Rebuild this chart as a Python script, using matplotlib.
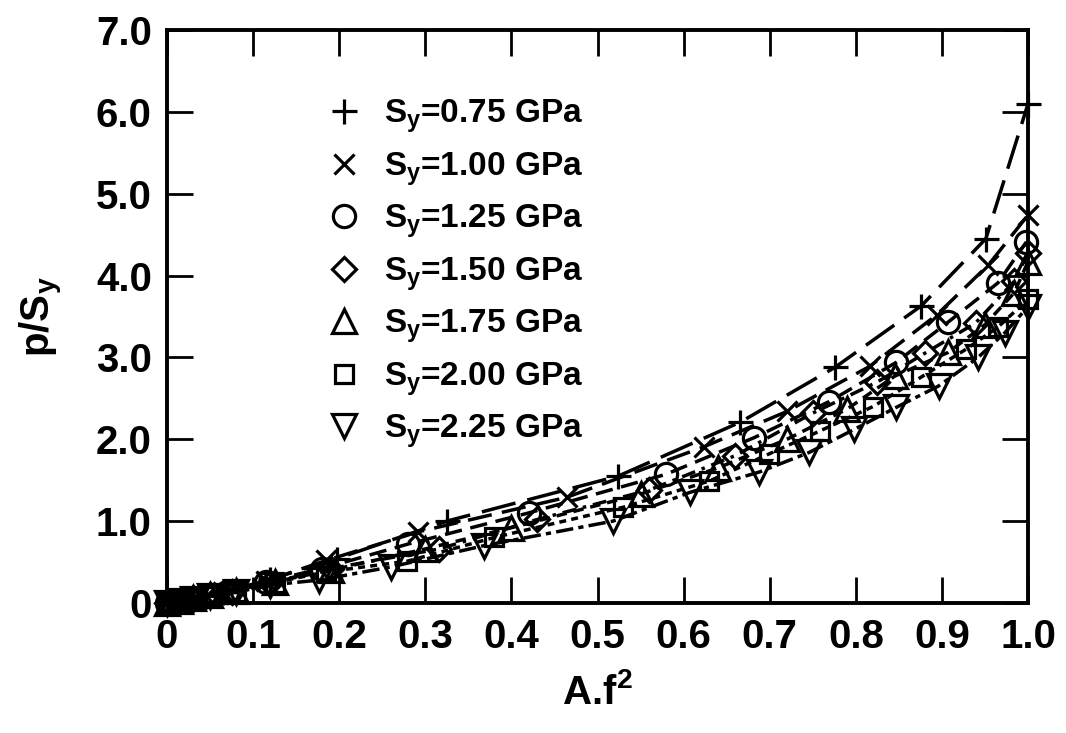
import matplotlib
matplotlib.use("Agg")
import matplotlib.pyplot as plt

plt.rcParams['font.family'] = ['Liberation Sans', 'DejaVu Sans']
plt.rcParams['font.weight'] = 'bold'
plt.rcParams['mathtext.fontset'] = 'custom'
plt.rcParams['mathtext.bf'] = 'Liberation Sans:bold'
plt.rcParams['mathtext.rm'] = 'Liberation Sans:bold'
plt.rcParams['mathtext.default'] = 'bf'

# ---- data ----
x_075 = [0.0, 0.015, 0.03, 0.045, 0.065, 0.12, 0.197, 0.325, 0.524, 0.666, 0.776, 0.876, 0.951, 1.0]
y_075 = [0.0, 0.03, 0.06, 0.09, 0.14, 0.29, 0.54, 1.0, 1.55, 2.21, 2.88, 3.63, 4.45, 6.1]

x_100 = [0.0, 0.015, 0.03, 0.045, 0.065, 0.115, 0.185, 0.292, 0.464, 0.624, 0.72, 0.816, 0.894, 0.954, 1.0]
y_100 = [0.0, 0.03, 0.06, 0.09, 0.14, 0.27, 0.52, 0.87, 1.29, 1.91, 2.34, 2.89, 3.52, 4.13, 4.74]

x_125 = [0.0, 0.015, 0.03, 0.05, 0.07, 0.115, 0.18, 0.28, 0.42, 0.579, 0.682, 0.769, 0.847, 0.907, 0.965, 0.998]
y_125 = [0.0, 0.03, 0.06, 0.1, 0.14, 0.26, 0.42, 0.72, 1.10, 1.57, 2.02, 2.46, 2.94, 3.43, 3.91, 4.41]

x_150 = [0.0, 0.015, 0.03, 0.05, 0.075, 0.12, 0.19, 0.316, 0.43, 0.56, 0.66, 0.75, 0.825, 0.88, 0.939, 0.984, 1.0]
y_150 = [0.0, 0.03, 0.06, 0.1, 0.14, 0.25, 0.42, 0.66, 1.02, 1.38, 1.80, 2.32, 2.70, 3.05, 3.42, 3.93, 4.28]

x_175 = [0.0, 0.015, 0.03, 0.05, 0.08, 0.125, 0.19, 0.30, 0.40, 0.55, 0.64, 0.72, 0.79, 0.845, 0.907, 0.95, 0.984, 1.0]
y_175 = [0.0, 0.03, 0.06, 0.1, 0.15, 0.26, 0.40, 0.66, 0.92, 1.33, 1.65, 2.0, 2.37, 2.77, 3.06, 3.40, 3.79, 4.17]

x_200 = [0.0, 0.015, 0.03, 0.05, 0.08, 0.125, 0.185, 0.279, 0.38, 0.53, 0.63, 0.699, 0.758, 0.82, 0.876, 0.928, 0.965, 1.0]
y_200 = [0.0, 0.03, 0.06, 0.09, 0.14, 0.25, 0.38, 0.51, 0.80, 1.17, 1.49, 1.82, 2.10, 2.40, 2.76, 3.10, 3.37, 3.71]

x_225 = [0.0, 0.015, 0.03, 0.05, 0.08, 0.12, 0.177, 0.26, 0.368, 0.518, 0.607, 0.688, 0.746, 0.798, 0.847, 0.896, 0.942, 0.973, 1.0]
y_225 = [0.0, 0.02, 0.05, 0.08, 0.13, 0.22, 0.28, 0.44, 0.70, 1.0, 1.35, 1.60, 1.84, 2.12, 2.39, 2.65, 3.0, 3.3, 3.62]

labels = ["S$_y$=0.75 GPa", "S$_y$=1.00 GPa", "S$_y$=1.25 GPa", "S$_y$=1.50 GPa",
          "S$_y$=1.75 GPa", "S$_y$=2.00 GPa", "S$_y$=2.25 GPa"]
xticks = [0.0, 0.1, 0.2, 0.3, 0.4, 0.5, 0.6, 0.7, 0.8, 0.9, 1.0]
xtick_labels = ["0", "0.1", "0.2", "0.3", "0.4", "0.5", "0.6", "0.7", "0.8", "0.9", "1.0"]
yticks = [0, 1, 2, 3, 4, 5, 6, 7]
ytick_labels = ["0", "1.0", "2.0", "3.0", "4.0", "5.0", "6.0", "7.0"]

series = [(x_075, y_075), (x_100, y_100), (x_125, y_125), (x_150, y_150),
          (x_175, y_175), (x_200, y_200), (x_225, y_225)]
markers = ['+', 'x', 'o', 'D', '^', 's', 'v']
msizes = [18, 15, 16, 12, 17, 13, 17]
dash_styles = [(10, 3.5), (7, 3), (5, 2.5), (4, 2, 1, 2), (3, 2), (2, 1.5), (5, 1.5, 1.5, 1.5)]

fig = plt.figure(figsize=(10.66, 7.33), dpi=100)
ax = fig.add_axes([0.1567, 0.1774, 0.8077, 0.7817])

for (xs, ys), ds in zip(series, dash_styles):
    ax.plot(xs, ys, color='black', lw=2.5, dashes=ds)
for (xs, ys), m, ms, lab in zip(series, markers, msizes, labels):
    ax.plot(xs, ys, linestyle='none', marker=m, markersize=ms, markeredgewidth=2.3,
            markerfacecolor='none', markeredgecolor='black', label=lab, clip_on=False)

ax.set_xlim(0, 1.0)
ax.set_ylim(0, 7.0)
ax.set_xticks(xticks)
ax.set_xticklabels(xtick_labels)
ax.set_yticks(yticks)
ax.set_yticklabels(ytick_labels)
ax.tick_params(direction='in', length=19, width=2, labelsize=29, pad=11,
               top=True, right=True)
for sp in ax.spines.values():
    sp.set_linewidth(2.8)

ax.set_xlabel("A.f$^2$", fontsize=29, fontweight='bold', labelpad=12)
ax.set_ylabel("p/S$_y$", fontsize=29, fontweight='bold', labelpad=22)

leg = ax.legend(loc='upper left', bbox_to_anchor=(0.171, 0.905), frameon=False,
                fontsize=24, handlelength=1.0, handletextpad=0.7, labelspacing=0.45,
                borderaxespad=0)

fig.savefig("out.png", dpi=100)
